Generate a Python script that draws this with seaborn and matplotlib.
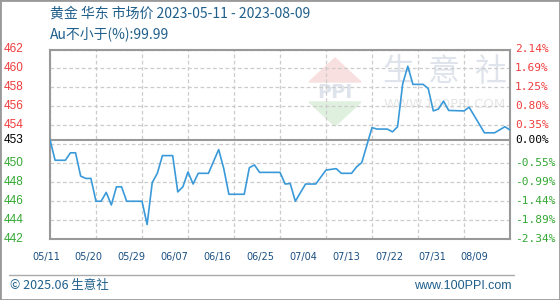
import numpy as np
import pandas as pd
import matplotlib
matplotlib.use("Agg")
import matplotlib.pyplot as plt
import seaborn as sns
from matplotlib import transforms
from matplotlib.patches import Polygon, Rectangle
from matplotlib.lines import Line2D

# ---------------- data ----------------
dates = ["2023-05-11", "2023-05-12", "2023-05-14", "2023-05-15", "2023-05-16", "2023-05-17",
         "2023-05-18", "2023-05-19", "2023-05-20", "2023-05-21", "2023-05-22", "2023-05-23",
         "2023-05-24", "2023-05-25", "2023-05-26", "2023-05-29", "2023-05-30", "2023-05-31",
         "2023-06-01", "2023-06-02", "2023-06-04", "2023-06-05", "2023-06-06", "2023-06-07",
         "2023-06-08", "2023-06-09", "2023-06-11", "2023-06-13", "2023-06-14", "2023-06-15",
         "2023-06-18", "2023-06-19", "2023-06-20", "2023-06-21", "2023-06-25", "2023-06-26",
         "2023-06-27", "2023-06-28", "2023-06-30", "2023-07-02", "2023-07-04", "2023-07-06",
         "2023-07-07", "2023-07-09", "2023-07-10", "2023-07-11", "2023-07-13", "2023-07-14",
         "2023-07-16", "2023-07-17", "2023-07-18", "2023-07-19", "2023-07-20", "2023-07-21",
         "2023-07-23", "2023-07-24", "2023-07-25", "2023-07-26", "2023-07-27", "2023-07-28",
         "2023-07-31", "2023-08-01", "2023-08-04", "2023-08-06", "2023-08-08", "2023-08-09"]
prices = [453.0, 450.8, 450.8, 451.6, 451.6, 449.1,
          448.85, 448.85, 446.4, 446.4, 447.35, 446.0,
          447.95, 447.95, 446.4, 446.4, 443.9, 448.4,
          449.4, 451.3, 451.3, 447.4, 447.95, 449.55,
          448.25, 449.4, 449.4, 451.95, 449.9, 447.15,
          447.15, 450.0, 450.3, 449.5, 449.5, 448.25,
          448.3, 446.4, 448.25, 448.25, 449.75, 449.9,
          449.4, 449.4, 450.1, 450.55, 454.3, 454.15,
          454.15, 453.85, 454.4, 459.0, 460.9, 458.95,
          458.95, 458.5, 456.1, 456.3, 457.15, 456.15,
          456.1, 456.5, 453.75, 453.75, 454.4, 454.05]

base_price = 453
pct_ticks = [-2.34, -1.89, -1.44, -0.99, -0.55, -0.10, 0.35, 0.80, 1.25, 1.69, 2.14]
left_labels = ["442", "444", "446", "448", "450", "", "454", "456", "458", "460", "462"]
right_labels = ["-2.34%", "-1.89%", "-1.44%", "-0.99%", "-0.55%", "", "0.35%", "0.80%",
                "1.25%", "1.69%", "2.14%"]
x_labels = ["05/11", "05/20", "05/29", "06/07", "06/16", "06/25", "07/04", "07/13",
            "07/22", "07/31", "08/09"]

title1 = "黄金 华东 市场价 2023-05-11 - 2023-08-09"
title2 = "Au不小于(%):99.99"
footer_left = "© 2025.06 生意社"
footer_right = "www.100PPI.com"

# ---------------- figure ----------------
sns.set_theme(style="white")
plt.rcParams["font.family"] = ["Noto Sans CJK SC", "DejaVu Sans"]

W, H = 560, 300
fig = plt.figure(figsize=(W / 100, H / 100), dpi=100)
fig.patch.set_facecolor("white")

L, R, T, B = 50, 510, 49.5, 238.5
ax = fig.add_axes([L / W, 1 - B / H, (R - L) / W, (B - T) / H])
ax.set_facecolor("white")

df = pd.DataFrame({"date": pd.to_datetime(dates), "price": prices})
df["day"] = (df["date"] - df["date"].iloc[0]).dt.days
ndays = int(df["day"].iloc[-1])

ygrid = [base_price * (1 + p / 100) for p in pct_ticks]

# watermark
wm_color = "#dfe4ec"
ax.add_patch(Polygon([[335 / W, 1 - 58 / H], [309 / W, 1 - 82 / H], [361 / W, 1 - 82 / H]],
                     closed=True, transform=fig.transFigure, color="#f9e0e0", zorder=0.2))
ax.add_patch(Polygon([[309 / W, 1 - 102 / H], [361 / W, 1 - 102 / H], [335 / W, 1 - 126 / H]],
                     closed=True, transform=fig.transFigure, color="#dff0df", zorder=0.2))
ax.text(335 / W, 1 - 92 / H, "PPI", transform=fig.transFigure, ha="center", va="center",
        fontsize=14, fontweight="bold", color=wm_color, family="DejaVu Sans", zorder=0.3)
for ch, cx in zip("生意社", [398, 444, 490]):
    ax.text(cx / W, 1 - 72 / H, ch, transform=fig.transFigure, ha="center", va="center",
            fontsize=23, color=wm_color, zorder=0.3)
ax.text(445 / W, 1 - 104 / H, "WWW.100PPI.COM", transform=fig.transFigure, ha="center",
        va="center", fontsize=9.5, color="#e6e6e6", family="DejaVu Sans", zorder=0.3)

# grid
for v in ygrid:
    ax.axhline(v, color="#cccccc", lw=0.9, ls=(0, (3, 2)), zorder=1)
for d in range(0, ndays + 1, 9):
    ax.axvline(d, color="#cccccc", lw=0.9, ls=(0, (3, 2)), zorder=1)
ax.axhline(base_price, color="#999999", lw=1.5, zorder=2)

sns.lineplot(data=df, x="day", y="price", ax=ax, color="#3a9ad9", linewidth=1.2, zorder=3)

ax.set_xlim(0, ndays)
ax.set_ylim(ygrid[0], ygrid[-1])
ax.set_xticks([])
ax.set_yticks([])
ax.set_xlabel("")
ax.set_ylabel("")
for s in ax.spines.values():
    s.set_color("#999999")
    s.set_linewidth(1.5)
    s.set_visible(True)

# y tick labels
red, green = "#f03c3c", "#33a833"
blend = transforms.blended_transform_factory(fig.transFigure, ax.transData)
for v, lab_l, lab_r, p in zip(ygrid, left_labels, right_labels, pct_ticks):
    c = red if p > 0 else green
    if lab_l:
        ax.text(4 / W, v, lab_l, transform=blend, ha="left", va="center", fontsize=8.5,
                color=c, family="Liberation Sans", clip_on=False)
    if lab_r:
        ax.text(515 / W, v, lab_r, transform=blend, ha="left", va="center", fontsize=8,
                color=c, family="DejaVu Sans Mono", clip_on=False)
ax.text(4 / W, base_price, str(base_price), transform=blend, ha="left", va="center",
        fontsize=8.5, color="black", family="Liberation Sans", clip_on=False)
ax.text(515 / W, base_price, "0.00%", transform=blend, ha="left", va="center",
        fontsize=8, color="black", family="DejaVu Sans Mono", clip_on=False)

# x labels
for k, lab in enumerate(x_labels):
    fig.text((46 + k * 42.87) / W, 1 - 257 / H, lab, ha="center", va="center", fontsize=7,
             color="#1a4f80", family="DejaVu Sans")

# titles
tcol = "#1f5f8b"
fig.text(50 / W, 1 - 14 / H, title1, ha="left", va="center", fontsize=10, color=tcol)
fig.text(50 / W, 1 - 34 / H, title2, ha="left", va="center", fontsize=10, color=tcol)

# footer
fig.add_artist(Line2D([9 / W, 514 / W], [1 - 275 / H, 1 - 275 / H], color="#aaaaaa", lw=1,
                      transform=fig.transFigure))
fig.text(10 / W, 1 - 286 / H, footer_left, ha="left", va="center", fontsize=9, color=tcol)
fig.text(512 / W, 1 - 286 / H, footer_right, ha="right", va="center", fontsize=9, color=tcol,
         family="Liberation Sans")

fig.add_artist(Rectangle((0, 0), 1, 1, transform=fig.transFigure, fill=False,
                         ec="#999999", lw=2))

fig.savefig("out.png", dpi=100)
